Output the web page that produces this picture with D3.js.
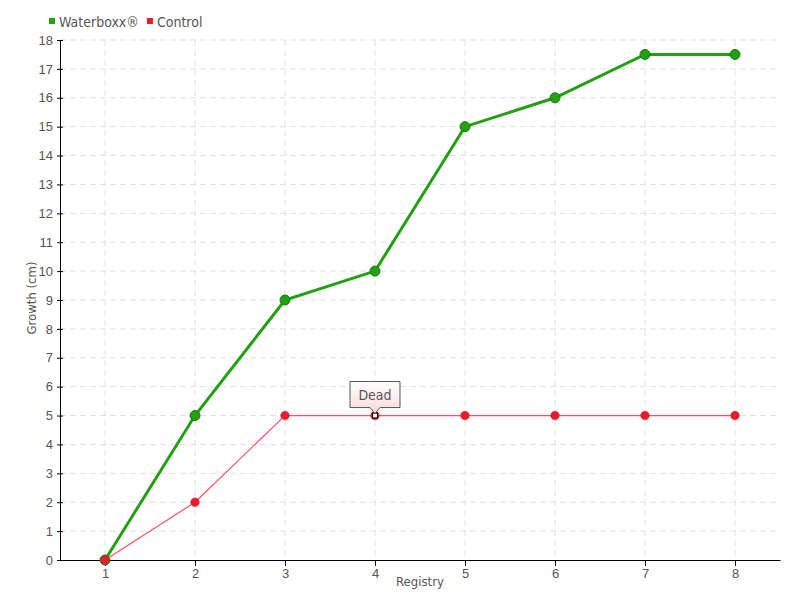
<!DOCTYPE html>
<html>
<head>
  <meta charset="utf-8">
  <script src="https://d3js.org/d3.v7.min.js"></script>
  <style>
    body{margin:0;background:#fff;}
    svg{font-family:"DejaVu Sans Condensed",sans-serif;}
    .grid line{stroke:#e0e0e0;stroke-dasharray:6,4;}
    .axis text{fill:#555;font-size:13px;}
    .axis path,.axis line{stroke:#000;}
  </style>
</head>
<body>
<svg width="800" height="600"></svg>
<script>
  // data
  var registry = [1, 2, 3, 4, 5, 6, 7, 8];
  var waterboxx = [0, 5, 9, 10, 15, 16, 17.5, 17.5];
  var control = [0, 2, 5, 5, 5, 5, 5, 5];
  var yTicks = d3.range(0, 19);
  var seriesNames = ["Waterboxx\u00ae", "Control"];
  var deadAt = 4;

  var svg = d3.select("svg");
  var pLeft = 60, pRight = 780, pTop = 40, pBottom = 560;

  var x = d3.scaleLinear().domain([0.5, 8.5]).range([pLeft, pRight]);
  var y = d3.scaleLinear().domain([0, 18]).range([pBottom, pTop]);

  // grid
  var grid = svg.append("g").attr("class", "grid");
  grid.selectAll(".h").data(yTicks.slice(1)).enter().append("line")
    .attr("x1", pLeft).attr("x2", pRight)
    .attr("y1", function(d){ return y(d); }).attr("y2", function(d){ return y(d); });
  grid.selectAll(".v").data(registry).enter().append("line")
    .attr("y1", pTop).attr("y2", pBottom)
    .attr("x1", function(d){ return x(d); }).attr("x2", function(d){ return x(d); });

  // axes
  svg.append("g").attr("class", "axis")
    .attr("transform", "translate(0," + pBottom + ")")
    .call(d3.axisBottom(x).tickValues(registry).tickSize(6).tickSizeOuter(0).tickPadding(3));
  var yAx = svg.append("g").attr("class", "axis")
    .attr("transform", "translate(" + pLeft + ",0)")
    .call(d3.axisLeft(y).tickValues(yTicks).tickSize(3).tickSizeOuter(0).tickPadding(4));
  yAx.selectAll(".tick line").attr("x1", 3); // ticks cross the axis

  svg.append("text").attr("x", 420).attr("y", 586).attr("text-anchor", "middle")
    .attr("fill", "#555").style("font-size", "13px").text("Registry");
  svg.append("text").attr("transform", "translate(36,298) rotate(-90)")
    .attr("text-anchor", "middle").attr("fill", "#555").style("font-size", "13px")
    .text("Growth (cm)");

  var line = d3.line()
    .x(function(d, i){ return x(registry[i]); })
    .y(function(d){ return y(d); });

  // green series
  svg.append("path").datum(waterboxx).attr("d", line)
    .attr("fill", "none").attr("stroke", "#22a012").attr("stroke-width", 3);
  svg.selectAll(".gp").data(waterboxx).enter().append("circle")
    .attr("cx", function(d, i){ return x(registry[i]); })
    .attr("cy", function(d){ return y(d); })
    .attr("r", 5).attr("fill", "#22a012").attr("stroke", "#1a7a10").attr("stroke-width", 1);

  // red series
  svg.append("path").datum(control).attr("d", line)
    .attr("fill", "none").attr("stroke", "#ff5060").attr("stroke-width", 1.2);
  svg.selectAll(".rp").data(control).enter().append("circle")
    .attr("cx", function(d, i){ return x(registry[i]); })
    .attr("cy", function(d){ return y(d); })
    .attr("r", 4.3).attr("fill", "#e81c2c").attr("stroke", "#d01525").attr("stroke-width", 0.5);

  // dead marker
  var dx = x(deadAt), dy = y(control[registry.indexOf(deadAt)]);
  svg.append("rect").attr("x", dx - 2.5).attr("y", dy - 2.5).attr("width", 5).attr("height", 5)
    .attr("fill", "#fff").attr("stroke", "#000").attr("stroke-width", 1.2);

  var grad = svg.append("defs").append("linearGradient").attr("id", "tip")
    .attr("x1", 0).attr("y1", 0).attr("x2", 0).attr("y2", 1);
  grad.append("stop").attr("offset", "0%").attr("stop-color", "#ffffff");
  grad.append("stop").attr("offset", "100%").attr("stop-color", "#fbd8d8");

  var tw = 50, th = 26, tb = dy - 8;
  svg.append("path")
    .attr("d", "M" + (dx - tw/2) + "," + (tb - th) + " h" + tw + " v" + th +
      " h" + -(tw/2 - 5) + " l-5,6 l-5,-6 h" + -(tw/2 - 5) + " z")
    .attr("fill", "url(#tip)").attr("stroke", "#555").attr("stroke-width", 1);
  svg.append("text").attr("x", dx).attr("y", tb - th/2 + 5).attr("text-anchor", "middle")
    .attr("fill", "#555").style("font-size", "14px").text("Dead");

  // legend
  var colors = ["#22a012", "#e81c2c"];
  var lx = 49;
  seriesNames.forEach(function(n, i){
    svg.append("rect").attr("x", lx).attr("y", 18).attr("width", 6).attr("height", 6).attr("fill", colors[i]);
    var t = svg.append("text").attr("x", lx + 10).attr("y", 27).attr("fill", "#555")
      .style("font-size", "14px").text(n);
    lx += 10 + t.node().getComputedTextLength() + 8;
  });
</script>
</body>
</html>
